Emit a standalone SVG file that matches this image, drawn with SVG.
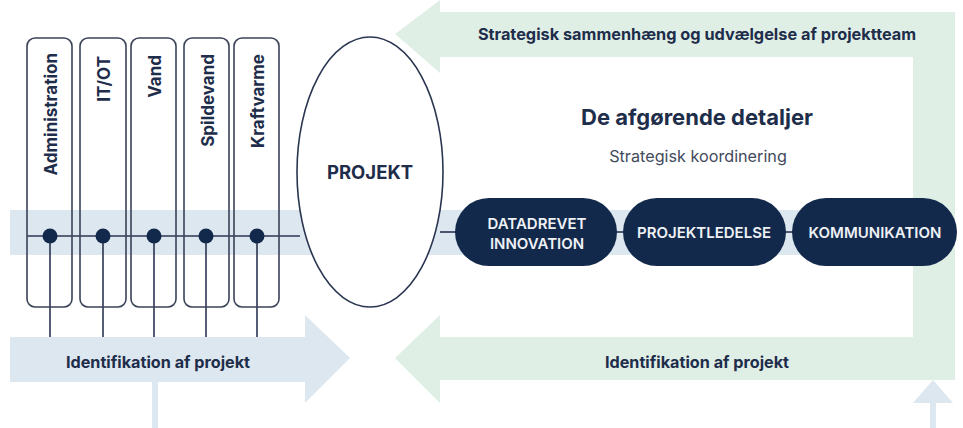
<svg xmlns="http://www.w3.org/2000/svg" width="963" height="428" viewBox="0 0 963 428">
<style>
.lbl{font-family:Inter,"Liberation Sans",sans-serif;font-weight:700;fill:#1e2d4a}
.col{fill:none;stroke:#3a4358;stroke-width:1.6}
.ln{stroke:#2a3550;stroke-width:1.6;fill:none}
.pill{fill:#13294b}
.pt{font-family:Inter,"Liberation Sans",sans-serif;font-weight:600;font-size:15px;fill:#eef1f5;text-anchor:middle}
.green{fill:#e0efe6}
.blue{fill:#dde7ef}
.dot{fill:#13294b}
.cl{font-size:17px;text-anchor:end}
</style>
<rect width="963" height="428" fill="#ffffff"/>
<g id="frames">
<path class="green" d="M395,34 L440,0 L440,12 L955,12 L955,380 L440,380 L440,403 L395,358 L440,315 L440,337 L913,337 L913,57 L440,57 L440,73 Z"/>
<rect class="blue" x="10" y="210" width="940" height="45"/>
<path class="blue" d="M10,337 L305,337 L305,315 L350,358 L305,403 L305,382 L10,382 Z"/>
<rect class="blue" x="152" y="382" width="6" height="46"/>
<path class="blue" d="M933,380 L953,403 L936,403 L936,428 L930,428 L930,403 L913,403 Z"/>
</g>
<g id="connectors">
<line class="ln" x1="27" y1="236" x2="300" y2="236"/>
<line class="ln" x1="440" y1="232" x2="456" y2="232"/>
<line class="ln" x1="616" y1="232" x2="624" y2="232"/>
<line class="ln" x1="785" y1="232" x2="793" y2="232"/>
<line class="ln" x1="50" y1="236" x2="50" y2="337"/>
<line class="ln" x1="103" y1="236" x2="103" y2="337"/>
<line class="ln" x1="154" y1="236" x2="154" y2="337"/>
<line class="ln" x1="206" y1="236" x2="206" y2="337"/>
<line class="ln" x1="257" y1="236" x2="257" y2="337"/>
</g>
<g id="col-administration">
<rect class="col" x="27" y="38" width="45" height="269" rx="8"/>
<text class="lbl cl" transform="translate(56.5,53) rotate(-90)">Administration</text>
<circle class="dot" cx="50" cy="236" r="7.5"/>
</g>
<g id="col-itot">
<rect class="col" x="80" y="38" width="46" height="269" rx="8"/>
<text class="lbl cl" transform="translate(109.5,56) rotate(-90)">IT/OT</text>
<circle class="dot" cx="103" cy="236" r="7.5"/>
</g>
<g id="col-vand">
<rect class="col" x="131" y="38" width="45" height="269" rx="8"/>
<text class="lbl cl" transform="translate(160.5,55) rotate(-90)">Vand</text>
<circle class="dot" cx="154" cy="236" r="7.5"/>
</g>
<g id="col-spildevand">
<rect class="col" x="184" y="38" width="45" height="269" rx="8"/>
<text class="lbl cl" transform="translate(213.5,54) rotate(-90)">Spildevand</text>
<circle class="dot" cx="206" cy="236" r="7.5"/>
</g>
<g id="col-kraftvarme">
<rect class="col" x="234" y="38" width="45" height="269" rx="8"/>
<text class="lbl cl" transform="translate(263.5,54) rotate(-90)">Kraftvarme</text>
<circle class="dot" cx="257" cy="236" r="7.5"/>
</g>
<g id="projekt">
<ellipse cx="370" cy="172" rx="73" ry="135" fill="#ffffff" stroke="#2a3550" stroke-width="1.6"/>
<text class="lbl" font-size="18.5" x="370" y="179" text-anchor="middle">PROJEKT</text>
</g>
<g id="titles">
<text class="lbl" font-size="16.3" x="697" y="39.5" text-anchor="middle">Strategisk sammenhæng og udvælgelse af projektteam</text>
<text class="lbl" font-size="22" x="697" y="124.5" text-anchor="middle">De afgørende detaljer</text>
<text x="698" y="161.5" text-anchor="middle" font-family="Inter,'Liberation Sans',sans-serif" font-size="16.2" fill="#3f4a5c">Strategisk koordinering</text>
<text class="lbl" font-size="16.2" x="158" y="367.5" text-anchor="middle">Identifikation af projekt</text>
<text class="lbl" font-size="16.2" x="697" y="367.5" text-anchor="middle">Identifikation af projekt</text>
</g>
<g id="pill-datadrevet">
<rect class="pill" x="455" y="198" width="162" height="68" rx="34"/>
<text class="pt" x="537" y="228.5">DATADREVET</text>
<text class="pt" x="537" y="248.5">INNOVATION</text>
</g>
<g id="pill-projektledelse">
<rect class="pill" x="623" y="198" width="163" height="68" rx="34"/>
<text class="pt" x="704" y="237.5">PROJEKTLEDELSE</text>
</g>
<g id="pill-kommunikation">
<rect class="pill" x="792" y="198" width="165" height="68" rx="34"/>
<text class="pt" x="875" y="237.5">KOMMUNIKATION</text>
</g>
</svg>
